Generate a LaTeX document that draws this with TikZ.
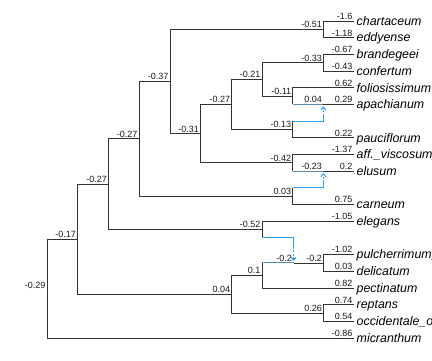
\documentclass[tikz,border=0pt]{standalone}
\usepackage{fontspec}
\setmainfont{Liberation Sans}
\usetikzlibrary{arrows.meta}
\definecolor{edgec}{RGB}{51,51,51}
\definecolor{majorblue}{RGB}{88,140,170}
\definecolor{skyline}{RGB}{40,160,235}
\definecolor{labc}{RGB}{26,26,26}
\begin{document}
\begin{tikzpicture}[x=1pt,y=-1pt,
  edge/.style={draw=edgec,line width=0.75pt},
  majedge/.style={draw=majorblue,line width=0.9pt},
  hybline/.style={color=skyline,line width=1pt},
  hybarrow/.style={color=skyline,line width=1pt,dash pattern=on 2pt off 1.5pt,-{Straight Barb[length=3pt,width=5pt]}},
  nlab/.style={anchor=base east,inner sep=0pt,xshift=-1.3pt,yshift=1.6pt,font=\fontsize{9}{10}\selectfont,text=labc},
  tlab/.style={anchor=base west,inner sep=0pt,xshift=2.5pt,yshift=-4.3pt,font=\fontsize{12.4}{14}\selectfont\itshape,text=black},
]
\fill[white] (0,0) rectangle (432,360);
\useasboundingbox (0,0) rectangle (432,360);
\clip (0,0) rectangle (432,360);

% internal nodes
\coordinate (R) at (47,288.6);
\coordinate (N017) at (77.5,239.2);
\coordinate (N027a) at (108.3,184.19);
\coordinate (N027b) at (139,138.83);
\coordinate (N037) at (170,81.48);
\coordinate (N051) at (323.4,29.34);
\coordinate (N031) at (200.4,133.62);
\coordinate (N027c) at (231.7,104.42);
\coordinate (N021) at (262,79.40);
\coordinate (N033) at (323.4,62.71);
\coordinate (N011) at (292.6,96.08);
\coordinate (H1) at (323.4,104.42);
\coordinate (N013) at (292.6,129.45);
\coordinate (N042) at (292.6,162.82);
\coordinate (H2) at (323.4,171.16);
\coordinate (N003) at (292.6,196.18);
\coordinate (N052) at (262,229.55);
\coordinate (N004) at (231.7,294.2);
\coordinate (N01) at (262,275.43);
\coordinate (H3) at (293.5,262.92);
\coordinate (N02) at (323.4,262.92);
\coordinate (N026) at (323.4,312.97);

% tips
\coordinate (t0) at (354,21);
\coordinate (t1) at (354,37.68);
\coordinate (t2) at (354,54.37);
\coordinate (t3) at (354,71.05);
\coordinate (t4) at (354,87.74);
\coordinate (t5) at (354,104.42);
\coordinate (t7) at (354,137.79);
\coordinate (t8) at (354,154.47);
\coordinate (t9) at (354,171.16);
\coordinate (t11) at (354,204.52);
\coordinate (t12) at (354,221.21);
\coordinate (t14) at (354,254.58);
\coordinate (t15) at (354,271.26);
\coordinate (t16) at (354,287.94);
\coordinate (t17) at (354,304.63);
\coordinate (t18) at (354,321.31);
\coordinate (t19) at (354,338);

% hybrid (minor) edge corners
\coordinate (m1) at (323.4,121.10);
\coordinate (m1s) at (323.4,115.5);
\coordinate (m1e) at (323.4,106.3);
\coordinate (m2) at (323.4,187.84);
\coordinate (m2s) at (323.4,182.2);
\coordinate (m2e) at (323.4,173.0);
\coordinate (m3) at (293.5,237.89);
\coordinate (m3s) at (293.5,246.5);
\coordinate (m3e) at (293.5,261.0);

% tree edges
\draw[edge] (R) |- (N017);
\draw[edge] (R) |- (t19);
\draw[edge] (N017) |- (N027a);
\draw[edge] (N017) |- (N004);
\draw[edge] (N027a) |- (N027b);
\draw[edge] (N027a) |- (N052);
\draw[edge] (N027b) |- (N037);
\draw[edge] (N027b) |- (N003);
\draw[edge] (N037) |- (N051);
\draw[edge] (N037) |- (N031);
\draw[edge] (N051) |- (t0);
\draw[edge] (N051) |- (t1);
\draw[edge] (N031) |- (N027c);
\draw[edge] (N031) |- (N042);
\draw[edge] (N027c) |- (N021);
\draw[edge] (N027c) |- (N013);
\draw[edge] (N021) |- (N033);
\draw[edge] (N021) |- (N011);
\draw[edge] (N033) |- (t2);
\draw[edge] (N033) |- (t3);
\draw[edge] (N011) |- (t4);
\draw[edge] (N011) -- (N011 |- H1);
\draw[edge] (H1) -- (t5);
\draw[edge] (N013) |- (t7);
\draw[edge] (N013) -- (N013 |- m1);
\draw[edge] (N042) |- (t8);
\draw[edge] (N042) -- (N042 |- H2);
\draw[edge] (H2) -- (t9);
\draw[edge] (N003) |- (t11);
\draw[edge] (N003) -- (N003 |- m2);
\draw[edge] (N052) |- (t12);
\draw[edge] (N052) -- (N052 |- m3);
\draw[edge] (N004) |- (N01);
\draw[edge] (N004) |- (N026);
\draw[edge] (N01) |- (t16);
\draw[edge] (N01) -- (N01 |- H3);
\draw[edge] (H3) -- (N02);
\draw[edge] (N02) |- (t14);
\draw[edge] (N02) |- (t15);
\draw[edge] (N026) |- (t17);
\draw[edge] (N026) |- (t18);

% major hybrid parent edges
\draw[majedge] (N011 |- H1) -- (H1);
\draw[majedge] (N042 |- H2) -- (H2);
\draw[majedge] (N01 |- H3) -- (H3);

% minor hybrid edges
\draw[hybline] (N013 |- m1) -- (m1) -- (m1s);
\draw[hybarrow] (m1s) -- (m1e);
\draw[hybline] (N003 |- m2) -- (m2) -- (m2s);
\draw[hybarrow] (m2s) -- (m2e);
\draw[hybline] (N052 |- m3) -- (m3) -- (m3s);
\draw[hybarrow] (m3s) -- (m3e);

% internal node labels
\node[anchor=base east,inner sep=0pt,font=\fontsize{9}{10}\selectfont,text=labc] (lR) at ([xshift=-1.5pt]R) {-0.29};
\node[nlab] (l017) at (N017) {-0.17};
\node[nlab] (l027a) at (N027a) {-0.27};
\node[nlab] (l027b) at (N027b) {-0.27};
\node[nlab] (l037) at (N037) {-0.37};
\node[nlab] (l051) at (N051) {-0.51};
\node[nlab] (l031) at (N031) {-0.31};
\node[nlab] (l027c) at (N027c) {-0.27};
\node[nlab] (l021) at (N021) {-0.21};
\node[nlab] (l033) at (N033) {-0.33};
\node[nlab] (l011) at (N011) {-0.11};
\node[nlab] (lH1) at (H1) {0.04};
\node[nlab] (l013) at (N013) {-0.13};
\node[nlab] (l042) at (N042) {-0.42};
\node[nlab] (lH2) at (H2) {-0.23};
\node[nlab] (l003) at (N003) {0.03};
\node[nlab] (l052) at (N052) {-0.52};
\node[nlab] (l004) at (N004) {0.04};
\node[nlab] (l01) at (N01) {0.1};
\node[nlab] (lH3) at (H3) {-0.2};
\node[nlab] (l02) at (N02) {-0.2};
\node[nlab] (l026) at (N026) {0.26};

% tip edge labels
\node[nlab] (e0) at (t0) {-1.6};
\node[nlab] (e1) at (t1) {-1.18};
\node[nlab] (e2) at (t2) {-0.67};
\node[nlab] (e3) at (t3) {-0.43};
\node[nlab] (e4) at (t4) {0.62};
\node[nlab] (e5) at (t5) {0.29};
\node[nlab] (e7) at (t7) {0.22};
\node[nlab] (e8) at (t8) {-1.37};
\node[nlab] (e9) at (t9) {0.2};
\node[nlab] (e11) at (t11) {0.75};
\node[nlab] (e12) at (t12) {-1.05};
\node[nlab] (e14) at (t14) {-1.02};
\node[nlab] (e15) at (t15) {0.03};
\node[nlab] (e16) at (t16) {0.82};
\node[nlab] (e17) at (t17) {0.74};
\node[nlab] (e18) at (t18) {0.54};
\node[nlab] (e19) at (t19) {-0.86};

% tip names
\node[tlab] (n0) at (t0) {chartaceum};
\node[tlab] (n1) at (t1) {eddyense};
\node[tlab] (n2) at (t2) {brandegeei};
\node[tlab] (n3) at (t3) {confertum};
\node[tlab] (n4) at (t4) {foliosissimum};
\node[tlab] (n5) at (t5) {apachianum};
\node[tlab] (n7) at (t7) {pauciflorum};
\node[tlab] (n8) at (t8) {aff.\_viscosum\_};
\node[tlab] (n9) at (t9) {elusum};
\node[tlab] (n11) at (t11) {carneum};
\node[tlab] (n12) at (t12) {elegans};
\node[tlab] (n14) at (t14) {pulcherrimum\_};
\node[tlab] (n15) at (t15) {delicatum};
\node[tlab] (n16) at (t16) {pectinatum};
\node[tlab] (n17) at (t17) {reptans};
\node[tlab] (n18) at (t18) {occidentale\_o};
\node[tlab] (n19) at (t19) {micranthum};
\end{tikzpicture}
\end{document}
